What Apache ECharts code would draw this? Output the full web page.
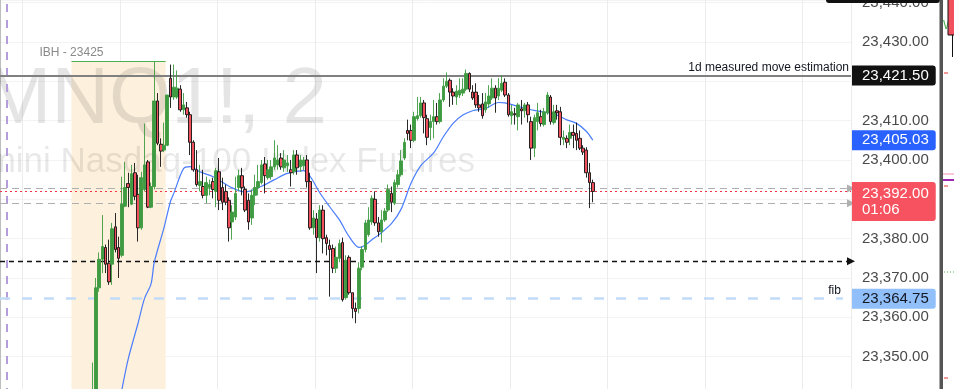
<!DOCTYPE html>
<html>
<head>
<meta charset="utf-8">
<script src="https://cdn.jsdelivr.net/npm/echarts@6/dist/echarts.min.js"></script>
<style>html,body{margin:0;padding:0;background:#fff;overflow:hidden}#c{width:954px;height:389px}</style>
</head>
<body>
<div id="c"></div>
<script>
// ---------- data (2-minute bars, slot index = bar position) ----------
const slotCount = 262;
const firstBar = 28;
const openP = [23339,23334,23367.5,23374.75,23377.75,23373.75,23373.5,23383,23377.75,23375.75,
23388.25,23394,23388.75,23396.75,23391.25,23382.75,23392.5,23399.5,23388,23393.25,
23415,23404,23402.5,23403.75,23420.75,23416,23416,23418,23412.75,23413.25,
23411.5,23404.5,23397.5,23393.5,23393.25,23391,23393,23394.5,23392,23397,
23393,23392,23389.75,23384.25,23385.5,23393,23396,23392.5,23389.75,23385.25,
23391,23393,23394.25,23399,23395.5,23395.75,23398.25,23398.75,23400.5,23398,
23398.5,23397.5,23397,23401.25,23398.25,23398.5,23400,23394.5,23382.75,23385,
23380.25,23387.25,23380.25,23378.25,23377.5,23372.5,23375,23379,23365,23375.25,
23366.25,23362.25,23362.25,23372.75,23377.25,23381,23384.25,23390,23384,23381.75,
23384.75,23387.25,23391.5,23389,23393.75,23396.25,23400.5,23407.5,23407.5,23405,
23410.5,23411.25,23414.5,23410.5,23408.25,23409.75,23411,23409.75,23415.25,23418.75,
23420.25,23417.25,23416,23416.5,23417,23418,23422,23417.25,23417.25,23414,
23414.25,23412.75,23414.25,23415.75,23418.25,23416.25,23417.75,23419.75,23416.5,23411.25,
23411.75,23411,23413,23412.5,23414,23409.75,23403,23409.75,23411,23409,
23412,23416,23409.5,23412.5,23412.25,23405.25,23405.5,23405.5,23407,23406.75,
23405.5,23403,23402.5,23396.75,23394.25];
const closeP = [23341,23367.5,23374.75,23378,23373.5,23369,23382.5,23377.25,23375,23388.75,
23393,23393,23396.5,23390.75,23382.75,23395.5,23398.75,23388,23393.25,23415,
23404.25,23402.25,23403.75,23416.5,23416,23418.5,23418.25,23412.75,23414,23411.5,
23404.5,23397.5,23393.75,23394.5,23391,23394.25,23393.75,23392.5,23397.25,23389.75,
23389.25,23389.25,23382.75,23386.75,23391.5,23396,23393,23387.25,23384.25,23391,
23393,23394.5,23398.75,23396,23397.5,23398.25,23400.5,23400,23398.25,23400,
23399.25,23396.75,23401.25,23398,23400,23400,23394.5,23382.75,23385.25,23380.25,
23387.25,23380,23378.75,23377.25,23372.5,23375.25,23378.75,23364.5,23374.5,23366.25,
23362.25,23361.5,23372.5,23377.25,23384,23384.75,23390.25,23384,23381.75,23384.75,
23387,23392.5,23389.25,23394.25,23396.25,23399.75,23404.5,23406.75,23405,23411,
23411.25,23414.5,23410.75,23405.75,23409.75,23411,23409.75,23415.25,23418.75,23420,
23417.25,23416.25,23417.5,23417.75,23418,23422,23418,23415.75,23414,23413.25,
23411.25,23414.75,23416.25,23418.25,23415.75,23418.25,23419.5,23416.5,23411.5,23412.25,
23411.5,23414,23412.5,23414,23411.5,23403,23410.75,23412,23409.25,23412.25,
23416.5,23409.75,23412.25,23412,23405.75,23405.75,23404.5,23407,23406.25,23405,
23403,23402,23396.75,23394.25,23392];
const lowP = [23338.5,23332.75,23366.5,23371.25,23371.25,23368.25,23368.25,23376.5,23370,23375.25,
23388,23388,23388.5,23389.75,23379.25,23382.25,23392,23387.75,23387.75,23392.5,
23403.75,23398.25,23402,23403.5,23413.25,23415.25,23415.5,23412.25,23411.5,23410.75,
23401.25,23397,23393.25,23392,23390.25,23389,23391,23390.25,23388,23387.25,
23387.25,23388.5,23379.25,23379.75,23384.75,23392,23391,23386.75,23382.25,23383.5,
23388.5,23391,23393.75,23391.5,23395,23395,23397.5,23397.5,23397.5,23397,
23397,23393.25,23396.25,23396.25,23397,23397.5,23393,23382.25,23381,23371.25,
23379.25,23376.25,23375.75,23365.25,23371.25,23371.25,23374,23364,23364.5,23365.75,
23359.75,23358.5,23361,23372,23376.5,23380.5,23383.5,23383.25,23380.5,23379,
23384.25,23386.75,23386.75,23388.5,23393,23395.75,23400,23405,23403,23404.5,
23410,23410.75,23406.75,23403.75,23405,23405.5,23409,23409.25,23414.75,23418.25,
23413.5,23414,23414,23415.75,23416.25,23417.5,23417.25,23415.25,23413.25,23412.25,
23410.5,23412,23413.25,23415.25,23412,23415.25,23417.25,23416,23411,23409,
23409,23407.5,23409,23410.75,23409.5,23400,23400.75,23407.5,23408.5,23408.5,
23411.5,23409,23409,23410.25,23403.75,23403.75,23403,23403.75,23403,23402.5,
23402.5,23401.25,23395.5,23387.75,23389.25];
const highP = [23348.5,23370,23376.5,23386,23378.5,23379.75,23384,23386.5,23380.5,23395.75,
23399.5,23396.75,23398.75,23399.25,23396.25,23397,23409.25,23400,23394.25,23425,
23417,23405.5,23409.5,23416.5,23424.25,23424.25,23422.75,23419,23417,23414.75,
23412.25,23405,23402.5,23398.75,23397.5,23395.75,23395,23395.5,23398,23400.5,
23395.5,23393.75,23390.5,23388.5,23395.75,23397.5,23398,23393.25,23391.5,23392.5,
23396.25,23398.75,23400,23400.75,23400,23400,23405,23403.75,23401.75,23402.5,
23401.25,23400,23402.5,23402.5,23401.25,23400.75,23401.25,23396.75,23387.25,23386.5,
23388.5,23388.5,23381,23379.75,23378.5,23378,23379.75,23380.25,23375.75,23375.75,
23366.25,23363.75,23374,23378,23384.75,23388,23391,23392,23385.5,23387.25,
23387.75,23393.75,23393.25,23395,23397.5,23402.5,23405.5,23410.25,23409,23412.25,
23416,23416,23415.25,23411.5,23411.5,23415.25,23414.5,23417,23420.75,23422.25,
23420.75,23418.25,23419,23420.75,23420.75,23423,23422.25,23419,23419.5,23416.5,
23417,23417,23419,23420.75,23419,23420.75,23421.5,23420.75,23417,23414,
23413.25,23414.5,23415.25,23414.5,23414.75,23411,23411.5,23414.5,23412.75,23413.25,
23417.25,23416.5,23414,23414,23413.5,23407.5,23406.25,23409,23409,23409.5,
23407.5,23403.75,23403.25,23399.25,23395];
// moving average read at these bar slots
const maIdx = [37,39,42,44,46,47,50,52,53,56,58,61,65,71,75,80,84,88,93,95,98,101,104,107,110,111,114,116,120,123,126,129,133,136,139,142,145,149,153,155,160,164,168,171,174,177,180,182];
const maVal = [23341.5,23349.5,23358.5,23364.8,23368.5,23374,23382.8,23389.5,23391.5,23397.8,23398.3,23397.0,23395.8,23392.9,23391.9,23393.3,23395,23396.6,23397.3,23395.8,23391.6,23388.1,23384.75,23380.5,23377.8,23377.9,23379.7,23380.9,23383.8,23387.5,23394,23398.5,23401.8,23405.9,23409.3,23411.4,23412.5,23413.1,23414.6,23414.5,23413.4,23412.6,23412,23411.4,23410.2,23409.3,23407.3,23405.03];
// price levels
const yMin = 23340, yMax = 23440.66, yStep = 10;
const measuredMove = 23421.5;
const ibHigh = 23425;
const ibSlots = [22, 51];
const sessionBreakSlot = 2.06;
const blackDash = 23374.25;
const grayDashes = [23392.75, 23389.0];
const fibLevel = 23364.75;
const fibEndSlot = 259.5;
const countdown = '01:06';
const symbolTitle = 'MNQ1!, 2';
const symbolDesc = 'Micro E-mini Nasdaq-100 Index Futures';

// ---------- build ----------
const categories = Array.from({length: slotCount}, (_, i) => String(i));
const candleData = categories.map((_, i) => {
  const k = i - firstBar;
  return (k >= 0 && k < openP.length) ? [openP[k], closeP[k], lowP[k], highP[k]] : ['-', '-', '-', '-'];
});
const maData = maIdx.map((s, k) => [s + 0.5, maVal[k]]);
const lastPrice = closeP[closeP.length - 1];
const maLast = maVal[maVal.length - 1];
const fmt = v => v.toLocaleString('en-US', {minimumFractionDigits: 2, maximumFractionDigits: 2});
const FONT = "'Liberation Sans', Arial, sans-serif";
const tagValues = [measuredMove, maLast, lastPrice, fibLevel];

function tag(value, text, bg, color, extra) {
  return {
    yAxis: value,
    lineStyle: {color: 'rgba(0,0,0,0)', width: 1, opacity: 1},
    label: Object.assign({
      show: true, position: 'end', distance: 1, formatter: text,
      backgroundColor: bg, color: color, fontSize: 15, fontFamily: FONT,
      lineHeight: 16, padding: [2, 7, 2, 10], borderRadius: [0, 3, 3, 0], opacity: 1
    }, extra || {})
  };
}

const chart = echarts.init(document.getElementById('c'), null, {renderer: 'canvas'});
chart.setOption({
  animation: false,
  backgroundColor: '#ffffff',
  grid: {left: 0, top: 0, width: 851, height: 396, containLabel: false, outerBoundsMode: 'none'},
  xAxis: [
    {type: 'category', data: categories, boundaryGap: true,
     axisLine: {show: false}, axisTick: {show: false}, axisLabel: {show: false},
     splitLine: {show: true, interval: (i) => i >= 7 && (i - 7) % 30 === 0, lineStyle: {color: '#ececec', width: 1}}},
    {type: 'value', min: 0, max: slotCount, show: false}
  ],
  yAxis: {
    type: 'value', position: 'right', min: yMin, max: yMax, interval: yStep,
    axisLine: {show: true, lineStyle: {color: '#bdbdbd', width: 1}},
    axisTick: {show: false},
    axisLabel: {
      margin: 11, color: '#4a4a4a', fontSize: 15, fontFamily: FONT, showMaxLabel: false,
      formatter: v => {
        if (Math.abs(v / yStep - Math.round(v / yStep)) > 1e-6) return '';
        if (tagValues.some(t => Math.abs(t - v) < 4)) return '';
        return fmt(v);
      }
    },
    splitLine: {show: true, lineStyle: {color: '#f3f3f3', width: 1}}
  },
  graphic: {
    elements: [
      {type: 'text', x: 327, y: 141, z: 2, silent: true,
       style: {text: symbolTitle, fontSize: 80, fontFamily: FONT, fill: 'rgba(0,0,0,0.1)', align: 'right', verticalAlign: 'bottom'}},
      {type: 'text', x: 475, y: 180, z: 2, silent: true,
       style: {text: symbolDesc, fontSize: 35, fontFamily: FONT, fill: 'rgba(0,0,0,0.09)', align: 'right', verticalAlign: 'bottom'}},
      {type: 'rect', z: 50, shape: {x: 826, y: -12, width: 114, height: 15, r: 3}, style: {fill: '#111111'}},
      {type: 'rect', z: 50, shape: {x: 939.5, y: 0, width: 3.5, height: 389}, style: {fill: '#555555'}},
      {type: 'line', z: 50, shape: {x1: 952.5, y1: 30, x2: 952.5, y2: 57}, style: {stroke: '#111', lineWidth: 1}},
      {type: 'rect', z: 51, shape: {x: 948, y: -5, width: 8, height: 40}, style: {fill: '#f0515c', stroke: '#111', lineWidth: 1}},
      {type: 'text', z: 50, x: 943, y: 26, style: {text: 'W', fontSize: 12, fontFamily: FONT, fill: '#4caf50', verticalAlign: 'middle'}},
      {type: 'line', z: 50, shape: {x1: 944, y1: 73, x2: 948, y2: 73}, style: {stroke: '#e53935', lineWidth: 1}},
      {type: 'line', z: 50, shape: {x1: 943, y1: 174, x2: 954, y2: 174}, style: {stroke: '#f48fb1', lineWidth: 1}},
      {type: 'line', z: 50, shape: {x1: 943, y1: 180, x2: 954, y2: 180}, style: {stroke: '#9c27b0', lineWidth: 2}},
      {type: 'line', z: 50, shape: {x1: 944, y1: 186, x2: 948, y2: 186}, style: {stroke: '#e53935', lineWidth: 1}},
      {type: 'line', z: 50, shape: {x1: 944, y1: 272, x2: 954, y2: 272}, style: {stroke: '#4caf50', lineWidth: 1, lineDash: [1, 2]}},
      {type: 'line', z: 50, shape: {x1: 944, y1: 378, x2: 948, y2: 378}, style: {stroke: '#e53935', lineWidth: 1}}
    ]
  },
  series: [
    { // initial balance box, session break, fib
      name: 'ib', type: 'line', xAxisIndex: 1, yAxisIndex: 0, data: [], z: 0, zlevel: 0, silent: true,
      markArea: {silent: true, z: 0, itemStyle: {color: '#fdf0dc'},
        data: [[{coord: [ibSlots[0], ibHigh]}, {coord: [ibSlots[1], yMin]}]]},
      markLine: {silent: true, symbol: ['none', 'none'], animation: false,
        data: [
          [{coord: [ibSlots[0], ibHigh], lineStyle: {color: '#4caf50', width: 1, type: 'solid'}, label: {show: false}},
           {coord: [ibSlots[1], ibHigh]}],
          {xAxis: sessionBreakSlot, lineStyle: {color: '#b39ddb', width: 2, type: [8, 8]}, label: {show: false}},
          [{coord: [0, fibLevel], lineStyle: {color: '#c2dbf8', width: 2.5, type: [10, 12]},
            label: {show: true, position: 'insideEndTop', distance: 2, formatter: 'fib', color: '#131722', fontSize: 12, fontFamily: FONT}},
           {coord: [fibEndSlot, fibLevel]}]
        ]},
      markPoint: {silent: true, symbol: 'circle', symbolSize: 0,
        data: [{coord: [ibSlots[0], ibHigh],
          label: {show: true, position: 'top', distance: 3, formatter: 'IBH - ' + ibHigh, color: '#8a8a8a', fontSize: 12, fontFamily: FONT}}]}
    },
    { // horizontal levels
      name: 'levels', type: 'line', data: [], z: 4, silent: true,
      markLine: {silent: true, symbol: ['none', 'none'],
        data: [
          {yAxis: measuredMove, lineStyle: {color: '#808080', width: 2, type: 'solid'},
           label: {show: true, position: 'insideEndTop', distance: 2, formatter: '1d measured move estimation', color: '#131722', fontSize: 12, fontFamily: FONT}},
          {yAxis: lastPrice, lineStyle: {color: '#f23645', width: 1, type: [2, 3]}, label: {show: false}}
        ]}
    },
    { // levels with axis triangles
      name: 'marks', type: 'line', data: [], z: 4, silent: true,
      markLine: {silent: true, symbol: ['none', 'triangle'], symbolSize: [8, 8],
        data: [
          {yAxis: blackDash, lineStyle: {color: '#111111', width: 1.3, type: [5, 4]}, itemStyle: {color: '#111111'}, label: {show: false}},
          {yAxis: grayDashes[0], lineStyle: {color: '#b0b0b0', width: 1, type: [7, 5]}, itemStyle: {color: '#b5b5b5'}, label: {show: false}},
          {yAxis: grayDashes[1], lineStyle: {color: '#b0b0b0', width: 1, type: [7, 5]}, itemStyle: {color: '#b5b5b5'}, label: {show: false}}
        ]}
    },
    {
      name: 'MNQ1!', type: 'candlestick', data: candleData, z: 6, barWidth: 3.1,
      itemStyle: {color: '#3e9b41', color0: '#f0515c', borderColor: '#3e9b41', borderColor0: '#111111', borderWidth: 0.9}
    },
    {
      name: 'MA', type: 'line', xAxisIndex: 1, data: maData, z: 5, smooth: 0.3, showSymbol: false,
      lineStyle: {color: '#4a7dfc', width: 1.2}
    },
    { // price tags on the axis
      name: 'tags', type: 'line', data: [], z: 20, silent: true,
      markLine: {silent: true, symbol: ['none', 'none'], z: 20,
        data: [
          tag(measuredMove, fmt(measuredMove), '#111111', '#ffffff'),
          tag(maLast, fmt(maLast), '#2962ff', '#ffffff'),
          tag(lastPrice, fmt(lastPrice) + '\n' + countdown, '#f7525f', '#ffffff', {offset: [0, 10], padding: [3, 7, 4, 10]}),
          tag(fibLevel, fmt(fibLevel), '#90bff9', '#131722')
        ]}
    }
  ]
});
</script>
</body>
</html>
